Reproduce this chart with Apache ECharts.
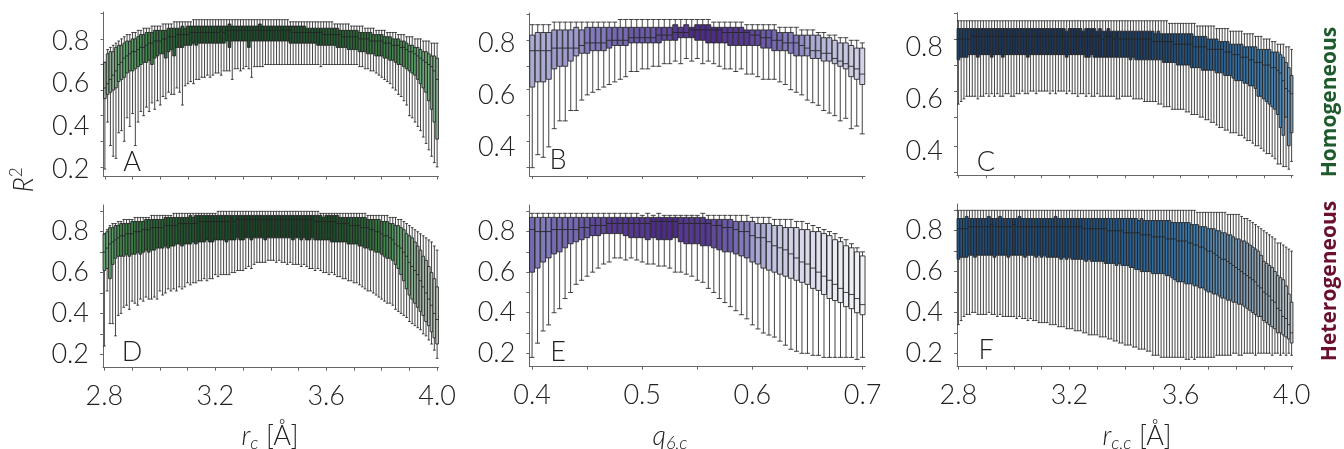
<!DOCTYPE html>
<html>
<head>
<meta charset="utf-8">
<script src="https://cdn.jsdelivr.net/npm/echarts@6/dist/echarts.min.js"></script>
<style>
html, body { margin: 0; padding: 0; background: #fff; }
#chart { width: 1344px; height: 449px; }
</style>
</head>
<body>
<div id="chart"></div>
<script>
// R^2 values are stored in hundredths (0.84 -> 84)
// A: homogeneous, r_c from 2.80 to 4.00 step 0.01
var aMax = [70,76,77,78,79,80,81,82,83,83, 84,84,85,85,86,86,86,87,87,87, 87,88,88,88,88,89,89,89,89,89, 89,89,90,90,90,90,90,90,90,90,
  90,90,90,90,90,90,90,90,90,90, 90,90,90,90,90,90,90,90,90,90, 90,90,90,90,90,90,90,89,89,89, 89,89,89,89,89,89,89,89,89,89,
  89,89,89,88,88,88,88,88,88,87, 87,87,87,87,86,86,86,86,85,85, 85,85,84,84,84,84,83,83,83,82, 82,82,81,81,81,80,80,80,79,79,79];
var aQ3 = [70,74,75,75,77,78,78,79,80,80, 81,81,82,83,83,84,84,84,85,85, 85,85,85,86,86,86,86,86,87,86, 87,87,87,87,87,87,87,87,87,87,
  87,87,87,87,87,88,87,87,87,87, 87,87,87,87,87,87,88,87,87,87, 87,87,87,87,87,87,87,87,87,87, 87,87,87,86,86,86,86,86,86,86,
  86,86,86,86,86,85,85,85,85,85, 85,85,84,84,84,84,84,83,83,83, 83,82,82,82,81,81,81,80,80,79, 78,78,77,77,76,75,75,74,73,73,72];
var aMed = [58,60,62,64,66,69,70,72,73,74, 75,75,76,77,77,78,79,79,80,80, 80,81,81,82,82,82,83,83,83,83, 83,84,84,84,84,84,84,84,84,84,
  84,84,85,84,85,85,85,85,85,85, 85,85,85,85,85,85,85,85,85,85, 85,85,85,85,85,85,85,85,84,84, 84,84,84,84,84,84,84,84,84,83,
  83,83,83,83,83,83,82,82,82,82, 82,82,81,81,81,81,80,80,80,80, 80,79,79,79,78,78,78,77,77,76, 75,75,74,73,72,71,70,69,68,66,62];
var aQ1 = [53,55,56,57,58,61,62,63,65,66, 66,67,68,69,70,70,71,69,72,73, 74,74,72,75,76,73,77,77,77,78, 78,78,79,78,79,79,79,79,79,79,
  79,79,79,79,80,77,80,80,80,80, 80,80,77,80,80,80,80,80,80,80, 80,80,80,80,80,80,80,79,79,79, 79,79,79,79,79,79,79,78,78,78,
  78,78,78,78,77,77,77,77,76,76, 76,76,75,75,75,74,74,74,73,73, 73,72,72,71,71,70,69,69,68,67, 66,65,64,62,60,58,56,52,48,42,34];
var aMin = [20,42,31,26,25,37,38,33,44,40, 46,31,42,47,45,49,47,51,48,52, 50,54,53,56,55,55,58,56,50,59, 60,61,60,62,62,63,63,64,63,64,
  65,65,64,66,66,66,62,67,67,66, 67,68,67,63,68,68,68,68,69,69, 69,69,69,69,69,69,69,69,69,69, 69,69,69,69,69,69,69,69,68,69,
  69,69,69,69,69,69,69,69,69,69, 69,69,68,68,67,67,66,66,65,64, 63,62,61,60,58,57,55,54,52,50, 45,44,42,40,38,35,32,29,26,23,21];

// B: homogeneous, q_6,c from 0.400 to 0.700 step 0.005
var bMax = [87,87,87,87,88,88,88,88,88,88, 88,88,88,88,88,88,89,89,89,89, 89,89,89,89,89,89,89,89,89,89,
  89,89,89,88,88,88,88,88,88,87, 87,87,87,87,87,86,86,86,86,85, 85,85,84,84,83,83,82,82,81,81,80];
var bQ3 = [83,84,84,84,85,85,85,85,86,85, 86,86,86,86,86,86,86,86,86,86, 86,86,86,86,86,86,87,86,87,86,
  87,87,87,86,86,86,86,86,86,85, 85,85,85,85,85,84,84,84,83,83, 83,83,83,82,82,81,80,80,79,78,78];
var bMed = [77,77,77,77,78,78,78,78,78,79, 80,80,80,80,81,81,81,81,82,82, 82,82,82,83,83,83,84,84,84,85,
  85,85,85,85,85,84,84,84,84,84, 83,83,82,82,81,81,80,80,80,79, 78,77,77,76,76,74,73,72,71,70,68];
var bQ1 = [63,65,65,66,70,71,71,73,75,76, 76,77,77,77,78,79,79,79,80,80, 80,80,80,80,81,81,81,82,82,82,
  81,81,80,80,80,80,79,79,79,79, 79,79,78,78,77,77,77,76,75,75, 75,74,74,73,73,72,71,70,67,66,64];
var bMin = [32,37,36,40,47,50,50,54,54,58, 60,61,62,63,64,65,66,67,69,69, 70,70,71,71,72,72,73,72,74,73,
  74,72,73,72,71,70,70,69,70,68, 68,67,66,66,66,65,64,62,61,60, 58,57,56,54,53,52,50,51,47,48,45];

// C: homogeneous, r_c,c from 2.80 to 4.00 step 0.01
var cMax = [90,90,90,90,90,90,90,90,90,90, 90,90,90,90,90,90,90,90,90,90, 90,90,90,90,90,90,90,90,90,90, 90,90,90,90,90,90,90,90,90,90,
  90,90,90,90,90,90,90,90,90,90, 90,90,90,90,90,90,90,90,90,90, 90,90,90,90,90,90,90,90,90,90, 90,90,90,90,90,90,89,89,89,89,
  89,89,89,89,89,89,88,88,88,88, 88,88,88,87,87,87,87,87,86,86, 86,86,86,85,85,85,85,84,84,84, 83,83,83,82,82,81,81,81,80,80,79];
var cQ3 = [87,87,87,87,87,87,87,87,87,87, 87,87,87,87,87,87,87,87,87,87, 87,87,87,87,87,87,87,87,87,87, 87,87,87,87,87,87,87,87,87,86,
  87,87,87,87,87,86,87,87,87,87, 86,87,86,86,87,86,86,86,86,86, 86,86,86,86,86,86,86,86,86,86, 86,85,86,85,85,85,85,85,85,85,
  85,85,85,85,85,84,84,84,84,84, 83,83,83,83,82,82,82,82,81,81, 81,81,81,80,80,80,80,80,79,79, 79,79,79,78,78,78,77,76,74,72,69];
var cMed = [83,83,83,83,83,84,84,84,84,84, 84,84,84,84,84,84,84,84,84,84, 84,84,84,84,84,84,84,84,84,84, 84,84,84,84,84,84,84,84,84,84,
  84,84,84,84,84,84,84,84,84,84, 84,84,83,84,84,84,83,84,83,83, 83,83,83,83,83,83,83,83,83,83, 82,82,82,82,82,82,82,82,81,81,
  81,81,81,81,81,80,80,80,80,80, 79,79,79,79,79,79,78,78,78,77, 77,77,76,76,76,75,75,74,74,74, 73,73,73,72,72,71,70,67,64,63,62];
var cQ1 = [75,76,76,76,77,77,77,76,77,77, 77,77,76,77,77,77,76,77,77,77, 77,77,77,77,77,76,77,77,77,77, 77,77,77,77,77,77,77,77,77,76,
  77,77,77,77,77,77,76,76,77,76, 76,76,76,76,76,76,76,76,76,76, 76,76,75,76,75,75,75,75,75,75, 75,75,75,75,74,74,74,74,74,73,
  73,73,73,73,72,72,72,72,71,71, 71,71,71,70,70,70,69,69,69,68, 67,67,67,66,66,65,65,64,61,61, 60,59,58,57,56,54,49,46,53,42,47];
var cMin = [58,59,60,61,61,61,61,60,61,61, 62,61,62,61,62,61,61,62,62,61, 61,62,62,63,62,62,63,63,62,63, 63,63,63,62,63,62,63,63,63,62,
  63,62,62,61,62,62,61,62,61,61, 62,61,61,61,61,61,61,60,60,61, 61,61,61,60,60,60,60,59,59,59, 59,59,58,58,57,57,57,56,56,56,
  56,56,55,55,54,54,54,53,53,52, 52,51,51,50,49,49,48,48,47,47, 47,46,46,45,44,44,43,42,42,41, 40,39,39,38,37,35,35,34,34,33,36];

// D: heterogeneous, r_c
var dMax = [79,81,83,84,84,85,85,86,86,86, 86,87,87,87,87,87,87,88,88,88, 88,88,88,88,88,89,89,89,89,89, 89,89,89,89,89,89,89,89,89,89,
  89,90,90,90,90,90,90,90,90,90, 90,90,90,90,90,90,90,90,90,90, 90,90,90,90,90,90,90,90,90,90, 90,90,90,90,90,90,90,90,89,89,
  89,89,89,89,89,89,89,89,89,89, 89,89,89,89,89,88,88,88,88,88, 88,88,88,87,87,87,86,86,85,84, 83,82,81,80,79,78,77,76,75,73,71];
var dQ3 = [79,80,82,82,83,83,84,84,84,84, 85,85,85,85,85,86,86,86,86,86, 86,86,87,87,87,87,87,87,87,87, 87,88,87,88,88,88,88,88,88,88,
  88,88,88,88,88,88,88,88,88,88, 88,88,88,88,88,88,88,88,88,88, 88,88,88,88,88,88,88,88,88,88, 88,88,88,88,88,88,88,88,88,87,
  88,88,88,88,88,87,87,87,87,87, 87,87,87,87,87,86,86,86,86,86, 85,85,85,84,84,83,83,82,81,79, 78,77,75,73,71,68,66,63,60,57,53];
var dMed = [70,72,74,75,76,77,78,78,79,79, 79,80,80,80,81,81,81,82,82,82, 82,82,83,83,83,83,83,84,84,84, 84,84,84,84,85,85,85,85,85,85,
  85,85,85,85,85,85,86,85,86,86, 86,86,86,86,86,86,86,86,86,86, 86,86,86,86,86,86,86,86,86,86, 86,86,86,86,86,86,85,85,85,85,
  85,85,85,85,84,84,84,84,84,83, 83,83,83,82,82,82,81,81,80,80, 79,78,78,77,76,74,73,72,70,68, 65,63,61,59,56,53,50,47,44,40,37];
var dQ1 = [61,62,57,64,67,68,68,68,69,68, 69,69,70,69,70,71,70,71,71,72, 72,72,73,72,73,73,74,74,73,74, 74,74,75,74,75,75,75,76,75,75,
  76,76,76,76,75,76,76,76,77,76, 76,77,77,76,77,77,77,77,76,77, 77,77,77,77,77,77,77,77,76,77, 77,76,77,76,76,77,76,76,76,76,
  76,76,75,75,75,75,75,75,74,74, 74,74,73,73,72,72,71,71,70,70, 69,68,67,67,66,64,62,59,56,52, 49,47,45,43,41,39,36,34,31,28,25];
var dMin = [24,51,35,35,29,39,40,43,44,42, 46,45,44,47,46,48,47,47,48,47, 51,49,50,52,51,52,51,53,52,53, 55,54,55,55,56,56,57,56,57,57,
  59,58,59,59,59,59,60,60,61,61, 61,62,63,62,64,65,65,65,65,66, 66,66,65,66,65,65,64,65,64,64, 64,63,64,63,62,62,61,62,61,60,
  60,59,60,59,58,58,57,57,56,56, 55,55,54,53,52,51,51,50,49,48, 47,46,45,45,44,42,41,40,39,38, 36,35,34,33,32,30,29,27,25,22,18];

// E: heterogeneous, q_6,c
var eMax = [89,89,89,89,89,89,89,89,89,89, 89,89,89,89,89,89,89,89,89,89, 88,89,88,89,88,88,88,88,88,88,
  88,89,88,88,88,88,88,88,88,88, 87,87,87,87,86,86,86,86,85,85, 84,83,82,81,80,79,77,76,74,72,70];
var eQ3 = [87,87,87,87,87,87,87,87,87,87, 87,87,87,87,87,87,87,87,87,87, 87,87,87,87,87,87,87,87,87,87,
  87,87,86,86,86,86,86,85,85,85, 85,84,84,84,83,83,82,82,82,81, 81,80,80,79,78,76,75,73,72,70,68];
var eMed = [81,80,80,80,81,81,81,81,81,82, 82,83,83,83,84,84,84,84,84,84, 84,84,85,85,85,85,85,84,84,84,
  84,84,84,83,83,82,82,81,80,80, 78,77,77,75,73,72,71,69,67,65, 64,62,60,58,56,54,52,50,49,47,44];
var eQ1 = [60,62,65,67,69,70,72,74,75,76, 77,78,78,79,79,79,79,78,77,77, 77,76,77,76,76,76,77,75,74,74,
  74,73,73,72,71,70,70,69,68,67, 65,64,62,61,60,59,58,57,56,55, 54,52,51,49,47,46,45,43,42,40,39];
var eMin = [18,25,31,34,40,42,47,50,54,56, 58,60,62,64,65,67,67,66,67,66, 65,64,64,63,63,62,60,60,59,58,
  56,55,52,50,47,45,43,41,39,37, 34,32,30,29,28,26,24,22,21,20, 20,19,19,18,18,18,18,18,18,17,18];

// F: heterogeneous, r_c,c
var fMax = [90,90,90,90,90,90,90,90,90,90, 90,90,90,90,90,90,90,90,90,90, 90,90,90,90,90,90,90,90,90,90, 90,90,90,90,90,90,90,90,90,90,
  90,90,90,90,90,90,90,90,90,90, 90,90,90,90,90,90,90,90,90,90, 90,90,90,90,90,90,90,90,90,90, 90,90,90,90,90,90,90,90,90,90,
  90,90,90,90,90,90,89,89,89,89, 89,89,89,89,89,89,89,88,88,88, 88,88,87,86,86,85,84,83,82,81, 80,79,78,77,76,74,74,73,72,71,70];
var fQ3 = [86,86,86,87,86,86,86,86,86,86, 86,87,86,86,86,87,86,86,86,86, 86,86,87,86,86,86,86,86,86,86, 86,86,86,86,86,87,86,86,86,86,
  86,86,86,86,86,86,86,86,86,86, 86,86,86,86,86,86,86,86,86,86, 86,86,86,86,86,85,86,85,85,85, 85,85,85,85,85,85,85,84,84,84,
  84,84,84,84,83,83,83,82,82,82, 81,81,81,80,80,79,79,78,78,77, 76,76,75,75,74,73,72,71,70,68, 65,64,63,62,60,58,57,56,53,49,45];
var fMed = [81,81,81,81,82,82,82,82,82,82, 82,82,83,82,82,82,82,82,82,82, 83,82,82,82,82,82,82,82,82,82, 82,82,82,82,82,82,82,82,82,82,
  82,82,82,82,82,81,81,81,81,81, 81,81,81,81,80,80,80,80,80,80, 79,79,79,79,79,79,78,78,78,78, 77,77,77,77,77,76,76,76,76,75,
  75,75,75,74,74,73,73,72,72,71, 70,70,69,68,67,66,66,65,64,63, 62,61,60,59,58,57,56,55,53,52, 50,49,48,46,45,42,41,38,37,34,30];
var fQ1 = [66,67,67,67,68,68,67,68,68,68, 68,68,68,67,68,68,68,68,67,68, 68,68,68,68,67,68,68,68,67,68, 67,68,67,67,67,67,67,66,67,66,
  67,66,66,66,66,66,65,66,65,65, 65,65,65,64,64,64,64,63,64,63, 63,63,62,62,61,61,60,60,60,60, 59,59,59,59,59,58,58,57,56,55,
  55,55,54,54,54,53,53,52,52,51, 50,50,49,49,48,47,47,46,46,45, 45,44,44,43,42,41,40,39,38,38, 36,35,34,33,32,30,30,29,28,27,25];
var fMin = [34,36,38,39,39,40,40,39,39,39, 39,40,39,39,38,39,38,38,38,38, 38,37,38,37,37,36,37,36,36,35, 35,35,35,34,34,34,33,33,33,32,
  32,32,31,31,31,30,30,29,29,29, 29,28,28,28,27,27,26,26,25,25, 24,24,24,23,23,22,22,22,21,21, 19,19,19,18,18,18,18,18,18,18,
  18,18,17,17,18,17,18,18,18,18, 18,18,18,19,19,19,19,19,19,20, 20,19,19,20,20,20,20,19,20,20, 20,20,20,19,20,20,19,20,19,20,19];

// axis categories and tick labels
var rcCats = [];
for (var i = 0; i <= 120; i++) rcCats.push((2.8 + i * 0.01).toFixed(2));
var qCats = [];
for (var j = 0; j <= 60; j++) qCats.push((0.4 + j * 0.005).toFixed(3));
var yLabelsTop = [0.4, 0.6, 0.8];
var yLabelsA = [0.2, 0.4, 0.6, 0.8];
var yLabelsBottom = [0.2, 0.4, 0.6, 0.8];

// fill colour follows the median
var greenStops = [[0.30,'#c4ccc5'],[0.50,'#aebcb0'],[0.60,'#93ad98'],[0.68,'#78ae84'],[0.74,'#5da26c'],[0.79,'#3d8049'],[0.82,'#2b6638'],[0.85,'#1c4d2a'],[0.87,'#163c21']];
var purpleStops = [[0.40,'#f6f6f9'],[0.55,'#e8e9f2'],[0.70,'#cfd0e6'],[0.76,'#b7b8da'],[0.78,'#9c9bcb'],[0.80,'#817bbb'],[0.82,'#6a5aa7'],[0.84,'#553890'],[0.86,'#43207c']];
var blueStops = [[0.30,'#c4ccd1'],[0.45,'#a9b6bf'],[0.60,'#7f9bb2'],[0.70,'#5289b5'],[0.76,'#3672a5'],[0.80,'#285c8d'],[0.82,'#214a74'],[0.84,'#1d3658'],[0.85,'#1a2d47']];

function hexRgb(h) {
    return [parseInt(h.substr(1, 2), 16), parseInt(h.substr(3, 2), 16), parseInt(h.substr(5, 2), 16)];
}
function stopColor(stops, v) {
    if (v <= stops[0][0]) return stops[0][1];
    for (var k = 1; k < stops.length; k++) {
        if (v <= stops[k][0]) {
            var t = (v - stops[k - 1][0]) / (stops[k][0] - stops[k - 1][0]);
            var a = hexRgb(stops[k - 1][1]), b = hexRgb(stops[k][1]);
            return 'rgb(' + Math.round(a[0] + (b[0] - a[0]) * t) + ',' + Math.round(a[1] + (b[1] - a[1]) * t) + ',' + Math.round(a[2] + (b[2] - a[2]) * t) + ')';
        }
    }
    return stops[stops.length - 1][1];
}
function boxData(mn, q1, md, q3, mx, stops) {
    return md.map(function (m, k) {
        return {
            value: [mn[k] / 100, q1[k] / 100, m / 100, q3[k] / 100, mx[k] / 100],
            itemStyle: { color: stopColor(stops, m / 100) }
        };
    });
}

var font = { fontFamily: 'Lato', fontWeight: 300, fontSize: 27, color: '#222' };

var panels = [
    { grid: [103.5, 12, 335, 164.5], cats: rcCats, every: 39, bottom: false, ymin: 0.165, ymax: 0.936, labels: yLabelsA, ticks: [0.21, 0.33, 0.45, 0.57, 0.69, 0.81, 0.93], data: boxData(aMin, aQ1, aMed, aQ3, aMax, greenStops), bw: 2.7 },
    { grid: [529.5, 13, 335.5, 163], cats: qCats, every: 19, bottom: false, ymin: 0.288, ymax: 0.915, labels: yLabelsTop, ticks: [0.32, 0.42, 0.52, 0.62, 0.71, 0.81, 0.91], data: boxData(bMin, bQ1, bMed, bQ3, bMax, purpleStops), bw: 5 },
    { grid: [957, 12.7, 336, 162.5], cats: rcCats, every: 39, bottom: false, ymin: 0.307, ymax: 0.931, labels: yLabelsTop, ticks: [0.32, 0.42, 0.53, 0.63, 0.73, 0.83, 0.93], data: boxData(cMin, cQ1, cMed, cQ3, cMax, blueStops), bw: 2.7 },
    { grid: [103, 205, 335.5, 162.7], cats: rcCats, every: 39, bottom: true, ymin: 0.134, ymax: 0.931, labels: yLabelsBottom, ticks: [0.2, 0.3, 0.4, 0.5, 0.6, 0.7, 0.8, 0.9], data: boxData(dMin, dQ1, dMed, dQ3, dMax, greenStops), bw: 2.7 },
    { grid: [529.3, 205, 336, 161.7], cats: qCats, every: 19, bottom: true, ymin: 0.134, ymax: 0.931, labels: yLabelsBottom, ticks: [0.2, 0.3, 0.4, 0.5, 0.6, 0.7, 0.8, 0.9], data: boxData(eMin, eQ1, eMed, eQ3, eMax, purpleStops), bw: 5 },
    { grid: [957, 204, 336, 162.7], cats: rcCats, every: 39, bottom: true, ymin: 0.134, ymax: 0.931, labels: yLabelsBottom, ticks: [0.2, 0.3, 0.4, 0.5, 0.6, 0.7, 0.8, 0.9], data: boxData(fMin, fQ1, fMed, fQ3, fMax, blueStops), bw: 2.7 }
];

var grids = [], xAxes = [], yAxes = [], series = [];
panels.forEach(function (p, k) {
    grids.push({ left: p.grid[0], top: p.grid[1], width: p.grid[2], height: p.grid[3], containLabel: false });
    xAxes.push({
        type: 'category', gridIndex: k, data: p.cats, boundaryGap: true,
        axisLine: { lineStyle: { color: '#666', width: 1 } },
        axisTick: { show: true, interval: 9, alignWithLabel: true, length: 3, lineStyle: { color: '#666' } },
        axisLabel: Object.assign({ show: p.bottom, interval: p.every, margin: 15, formatter: function (v) { return parseFloat(v).toFixed(1); } }, font),
        splitLine: { show: false }
    });
    yAxes.push({
        type: 'value', gridIndex: k, min: p.ymin, max: p.ymax,
        axisLine: { show: true, lineStyle: { color: '#666', width: 1 } },
        axisTick: { show: true, length: 3, customValues: p.ticks, lineStyle: { color: '#666' } },
        axisLabel: Object.assign({ customValues: p.labels, margin: 14, formatter: function (v) { return v.toFixed(1); } }, font),
        splitLine: { show: false }
    });
    series.push({
        type: 'boxplot', xAxisIndex: k, yAxisIndex: k, data: p.data,
        boxWidth: [p.bw, p.bw], silent: true,
        itemStyle: { borderColor: '#222', borderWidth: 0.85 },
        emphasis: { disabled: true }
    });
});

var thin = { fontFamily: 'Lato', fontWeight: 300, fill: '#222' };
function label(x, y, text) {
    return { type: 'text', x: x, y: y, silent: true, style: Object.assign({ text: text, fontSize: 27, align: 'center', verticalAlign: 'middle' }, thin) };
}
function axisTitle(x, y, main, sub, tail) {
    return {
        type: 'text', x: x, y: y, silent: true,
        style: {
            text: '{i|' + main + '}{s|' + sub + '}' + (tail ? '{n| ' + tail + '}' : ''),
            align: 'center', verticalAlign: 'middle',
            rich: {
                i: Object.assign({ fontSize: 27, fontStyle: 'italic', lineHeight: 32 }, thin),
                s: Object.assign({ fontSize: 18, fontStyle: 'italic', lineHeight: 20, verticalAlign: 'bottom' }, thin),
                n: Object.assign({ fontSize: 27, lineHeight: 32 }, thin)
            }
        }
    };
}

var graphics = [
    label(132, 162, 'A'), label(558, 160, 'B'), label(986, 162, 'C'),
    label(132, 352, 'D'), label(558, 352, 'E'), label(986, 350, 'F'),
    axisTitle(270, 436, 'r', 'c', '[Å]'),
    axisTitle(670, 436, 'q', '6,c', ''),
    axisTitle(1137, 436, 'r', 'c,c', '[Å]'),
    {
        type: 'text', x: 24, y: 180, rotation: Math.PI / 2, silent: true,
        style: {
            text: '{i|R}{s|2}', align: 'center', verticalAlign: 'middle',
            rich: {
                i: Object.assign({ fontSize: 27, fontStyle: 'italic', lineHeight: 32 }, thin),
                s: Object.assign({ fontSize: 17, lineHeight: 18, verticalAlign: 'top' }, thin)
            }
        }
    },
    {
        type: 'text', x: 1330, y: 102, rotation: Math.PI / 2, silent: true,
        style: { text: 'Homogeneous', fontFamily: 'Open Sans', fontWeight: 'bold', fontSize: 21, fill: '#1e5a2b', align: 'center', verticalAlign: 'middle' }
    },
    {
        type: 'text', x: 1330, y: 281, rotation: Math.PI / 2, silent: true,
        style: { text: 'Heterogeneous', fontFamily: 'Open Sans', fontWeight: 'bold', fontSize: 21, fill: '#6a0f2f', align: 'center', verticalAlign: 'middle' }
    }
];

var chart = echarts.init(document.getElementById('chart'));
chart.setOption({
    animation: false,
    backgroundColor: '#fff',
    grid: grids,
    xAxis: xAxes,
    yAxis: yAxes,
    series: series,
    graphic: graphics
});
</script>
</body>
</html>
